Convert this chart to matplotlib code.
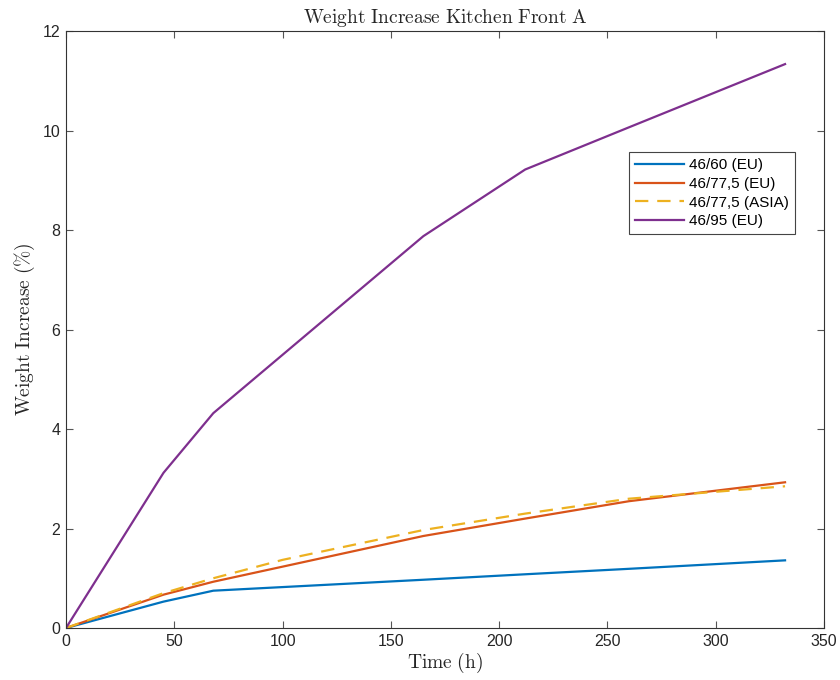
import matplotlib
matplotlib.use("Agg")
import matplotlib.pyplot as plt

plt.rcParams["font.family"] = ["Liberation Sans", "DejaVu Sans"]
plt.rcParams["mathtext.fontset"] = "cm"

# Time points (h)
time_h = [0, 45, 68, 165, 212, 260, 332]
time_asia = [0, 45, 68, 100, 165, 212, 260, 332]

# Weight increase (%)
eu_60 = [0, 0.53, 0.75, 0.97, 1.08, 1.19, 1.36]
eu_775 = [0, 0.67, 0.93, 1.85, 2.20, 2.55, 2.93]
asia_775 = [0, 0.70, 1.00, 1.37, 1.97, 2.30, 2.60, 2.85]
eu_95 = [0, 3.12, 4.32, 7.88, 9.22, 10.07, 11.34]

labels = ["46/60 (EU)", "46/77,5 (EU)", "46/77,5 (ASIA)", "46/95 (EU)"]
colors = ["#0072BD", "#D95319", "#EDB120", "#7E2F8E"]

fig = plt.figure(figsize=(8.4, 6.8), dpi=100)
ax = fig.add_axes([0.0786, 0.0765, 0.9024, 0.8775])

ax.plot(time_h, eu_60, color=colors[0], lw=1.6, label=labels[0])
ax.plot(time_h, eu_775, color=colors[1], lw=1.6, label=labels[1])
ax.plot(time_asia, asia_775, color=colors[2], lw=1.6, ls=(0, (6, 4)), label=labels[2])
ax.plot(time_h, eu_95, color=colors[3], lw=1.6, label=labels[3])

ax.set_xlim(0, 350)
ax.set_ylim(0, 12)
ax.set_xticks(range(0, 351, 50))
ax.set_yticks(range(0, 13, 2))

ax.set_title(r"$\mathrm{Weight\ Increase\ Kitchen\ Front\ A}$", fontsize=14, color="#262626", pad=6)
ax.set_xlabel(r"$\mathrm{Time\ (h)}$", fontsize=14, color="#262626", labelpad=2)
ax.set_ylabel(r"$\mathrm{Weight\ Increase\ (\%)}$", fontsize=14, color="#262626", labelpad=4)

ax.tick_params(direction="in", top=True, right=True, length=5, width=0.8,
               color="#555555", labelcolor="#262626", labelsize=11.5, pad=4)
for spine in ax.spines.values():
    spine.set_color("#333333")
    spine.set_linewidth(0.8)

leg = ax.legend(loc="upper right", bbox_to_anchor=(0.972, 0.81), fontsize=11,
                frameon=True, fancybox=False, edgecolor="#444444", framealpha=1,
                handlelength=3.2, borderpad=0.4, labelspacing=0.3, handletextpad=0.35)
leg.get_frame().set_linewidth(0.8)

fig.savefig("out.png", dpi=100, facecolor="white")
